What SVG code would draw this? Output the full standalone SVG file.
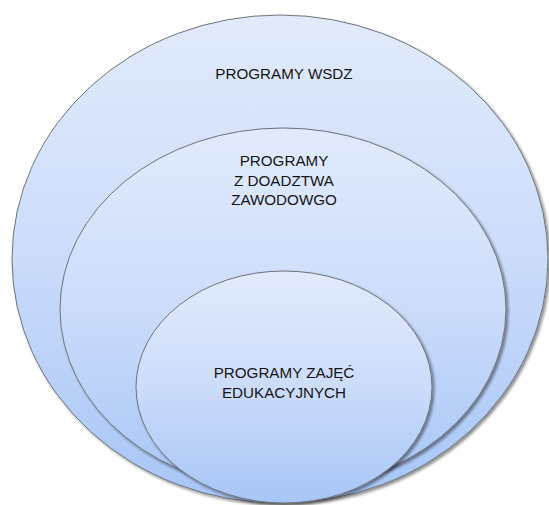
<svg xmlns="http://www.w3.org/2000/svg" width="549" height="505" viewBox="0 0 549 505">
<style>
.ell{fill:url(#g);stroke:#6e737a;stroke-width:1;filter:url(#sh)}
.t{font-family:"Liberation Sans",Arial,sans-serif;font-size:15.2px;fill:#151515;text-anchor:middle}
</style>
<defs>
<linearGradient id="g" x1="0" y1="0" x2="0" y2="1">
<stop offset="0" stop-color="#e1ebfc"/>
<stop offset="0.5" stop-color="#ccdcfa"/>
<stop offset="1" stop-color="#a7c5f7"/>
</linearGradient>
<filter id="sh" x="-10%" y="-10%" width="120%" height="120%">
<feGaussianBlur in="SourceAlpha" stdDeviation="1.5"/>
<feOffset dx="1.5" dy="2" result="b"/>
<feComponentTransfer><feFuncA type="linear" slope="0.45"/></feComponentTransfer>
<feMerge><feMergeNode/><feMergeNode in="SourceGraphic"/></feMerge>
</filter>
</defs>
<rect width="549" height="505" fill="#fff"/>
<g id="outer">
<ellipse class="ell" cx="280" cy="259" rx="268" ry="244"/>
<text class="t" x="284" y="79">PROGRAMY WSDZ</text>
</g>
<g id="middle">
<ellipse class="ell" cx="283" cy="309" rx="223" ry="181"/>
<text class="t" x="284" y="165.5">PROGRAMY</text>
<text class="t" x="284" y="185.5">Z DOADZTWA</text>
<text class="t" x="284" y="205">ZAWODOWGO</text>
</g>
<g id="inner">
<ellipse class="ell" cx="284" cy="387" rx="148" ry="116"/>
<text class="t" x="284" y="378">PROGRAMY ZAJĘĆ</text>
<text class="t" x="284" y="397.5">EDUKACYJNYCH</text>
</g>
<g id="connectors"/>
</svg>
